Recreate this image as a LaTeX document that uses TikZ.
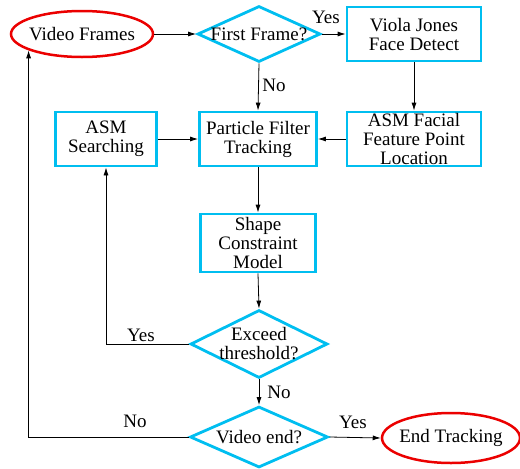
\documentclass[tikz,border=0pt]{standalone}
\usepackage{fontspec}
\setmainfont{Liberation Serif}
\newfontfamily\diagfont{Liberation Serif}
\usetikzlibrary{shapes.geometric,arrows.meta}
\definecolor{boxcyan}{RGB}{0,190,240}
\definecolor{termred}{RGB}{235,0,0}
\tikzset{
  txt/.style={font=\diagfont\fontsize{19}{19}\selectfont, align=center, inner sep=0pt},
  procbox/.style={draw=boxcyan, line width=2.8pt, rectangle, inner sep=0pt},
  decbox/.style={draw=boxcyan, line width=2.8pt, diamond, inner sep=0pt},
  termbox/.style={draw=termred, line width=2.5pt, ellipse, inner sep=0pt},
  conn/.style={line width=0.8pt, -{Latex[length=8pt,width=5pt]}},
  lab/.style={font=\diagfont\fontsize{19}{19}\selectfont, inner sep=0pt}
}
\begin{document}
\begin{tikzpicture}[x=1pt,y=-1pt]
\useasboundingbox (0,0) rectangle (520,469);
% terminals
\node[termbox, minimum width=142pt, minimum height=46pt, label={[txt]center:Video Frames}] (vf) at (82,34) {};
\node[termbox, minimum width=138pt, minimum height=50pt, label={[txt]center:End Tracking}] (et) at (451,438) {};
% decisions
\node[decbox, minimum width=123pt, minimum height=56pt, label={[txt]center:First Frame?}] (ff) at (259,34) {};
\node[decbox, minimum width=137pt, minimum height=68pt, label={[txt]center:{Exceed\\threshold?}}] (ex) at (259,344) {};
\node[decbox, minimum width=138pt, minimum height=61pt, label={[txt]center:Video end?}] (ve) at (259,437) {};
% processes
\node[procbox, minimum width=134pt, minimum height=54pt, label={[txt]center:{Viola Jones\\Face Detect}}] (vj) at (414,34) {};
\node[procbox, minimum width=134pt, minimum height=54pt, label={[txt]center:{ASM Facial\\Feature Point\\Location}}] (af) at (414,139) {};
\node[procbox, minimum width=117pt, minimum height=54pt, label={[txt]center:{Particle Filter\\Tracking}}] (pf) at (258,139) {};
\node[procbox, minimum width=101pt, minimum height=54pt, label={[txt]center:{ASM\\Searching}}] (as) at (106,139) {};
\node[procbox, minimum width=115pt, minimum height=58pt, label={[txt]center:{Shape\\Constraint\\Model}}] (sc) at (258,243) {};
% connectors
\draw[conn] (vf.east) -- (ff.west);
\draw[conn] (ff.east) -- (vj.west);
\draw[conn] (vj.south) -- (af.north);
\draw[conn] (ff.south) -- (pf.north);
\draw[conn] (as.east) -- (pf.west);
\draw[conn] (af.west) -- (pf.east);
\draw[conn] (pf.south) -- (sc.north);
\draw[conn] (sc.south) -- (ex.north);
\draw[conn] (ex.west) -| (as.south);
\draw[conn] (ex.south) -- (ve.north);
\draw[conn] (ve.east) -- (et.west);
\draw[conn] (ve.west) -| (vf.197);
% labels
\node[lab] (l1) at (326,17) {Yes};
\node[lab] (l2) at (274,85) {No};
\node[lab] (l3) at (141,335) {Yes};
\node[lab] (l4) at (279,392) {No};
\node[lab] (l5) at (135,421) {No};
\node[lab] (l6) at (353,422) {Yes};
\end{tikzpicture}
\end{document}
